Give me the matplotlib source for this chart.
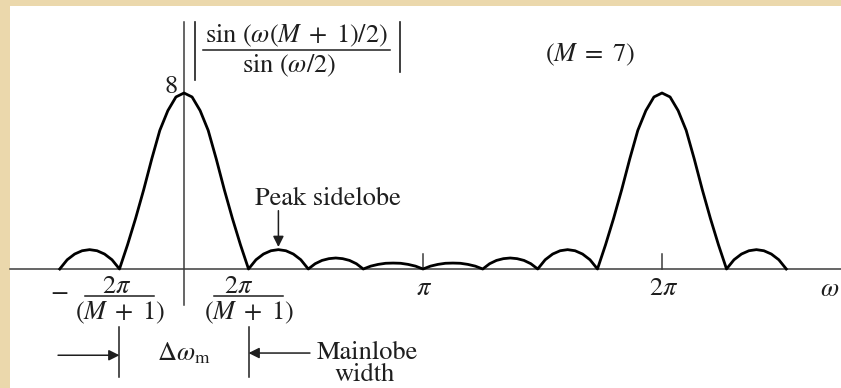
import numpy as np
import matplotlib.pyplot as plt
from matplotlib.patches import Rectangle

plt.rcParams['font.family'] = 'STIXGeneral'
plt.rcParams['mathtext.fontset'] = 'stix'

# zero crossings of |sin(w(M+1)/2) / sin(w/2)|, M = 7, in units of pi
zeros = [-0.52, -0.27, 0.27, 0.52, 0.75, 1.0, 1.25, 1.48, 1.73, 2.27, 2.52]

# magnitude across one lobe, evenly spaced between two zeros
main_lobe = [0, 1.1, 2.3, 3.6, 5.0, 6.3, 7.2, 7.82, 8.0,
             7.82, 7.2, 6.3, 5.0, 3.6, 2.3, 1.1, 0]
side_near = [0, 0.42, 0.68, 0.83, 0.88, 0.83, 0.68, 0.42, 0]
side_mid = [0, 0.24, 0.39, 0.47, 0.50, 0.47, 0.39, 0.24, 0]
side_far = [0, 0.13, 0.21, 0.26, 0.27, 0.26, 0.21, 0.13, 0]

lobes = [side_near, main_lobe, side_near, side_mid, side_far,
         side_far, side_mid, side_near, main_lobe, side_near]

tick_pos = [1, 2]
tick_labels = [r'$\pi$', r'$2\pi$']
peak_value = 8

ink = '#1e1e1e'
axis_col = '#3c3c3c'
fs = 19

# stitch the lobes into one curve
omega, magnitude = [], []
for i, vals in enumerate(lobes):
    w = np.linspace(zeros[i], zeros[i + 1], len(vals))
    start = 0 if i == 0 else 1
    omega.extend(w[start:])
    magnitude.extend(vals[start:])

fig = plt.figure(figsize=(8.41, 3.88), dpi=100, facecolor='#EBD8AC')
fig.add_artist(Rectangle((10 / 841, 0), 831 / 841, 382 / 388,
                         transform=fig.transFigure, facecolor='white',
                         edgecolor='none', zorder=0))

ax = fig.add_axes([0, 0, 1, 1])
ax.set_facecolor('none')
ax.set_xlim(-184 / 239, 657 / 239)
ax.set_ylim((269 - 388) / 22, 269 / 22)
ax.axis('off')

# axes
ax.plot([-0.728, 2.75], [0, 0], color=axis_col, lw=1.1)
ax.plot([0, 0], [-1.64, 11.23], color=axis_col, lw=1.1)
for t in tick_pos:
    ax.plot([t, t], [0, 0.68], color=axis_col, lw=1.1)

# magnitude curve
ax.plot(omega, magnitude, color='black', lw=2.0, solid_joinstyle='round')

# peak value label
ax.text(-0.055, peak_value + 0.27, str(peak_value), fontsize=fs, color=ink,
        ha='center', va='center')

# |sin(w(M+1)/2) / sin(w/2)|
ax.plot([0.046, 0.046], [8.59, 11.23], color=ink, lw=1.2)
ax.plot([0.904, 0.904], [8.95, 11.23], color=ink, lw=1.2)
ax.plot([0.08, 0.862], [9.95, 9.95], color=ink, lw=1.1)
ax.text(0.471, 10.58, r'$\mathrm{sin}\ (\omega(M\;+\;1)/2)$', fontsize=fs,
        color=ink, ha='center', va='center')
ax.text(0.44, 9.23, r'$\mathrm{sin}\ (\omega/2)$', fontsize=fs,
        color=ink, ha='center', va='center')
ax.text(1.699, 9.73, r'$(M\;=\;7)$', fontsize=fs, color=ink,
        ha='center', va='center')

# tick labels
for t, lab in zip(tick_pos, tick_labels):
    ax.text(t + 0.005, -0.9, lab, fontsize=fs, color=ink,
            ha='center', va='center')
ax.text(2.70, -0.95, r'$\omega$', fontsize=fs, color=ink,
        ha='center', va='center')

# +/- 2pi/(M+1) labels under the mainlobe zeros
ax.text(-0.523, -1.05, r'$-$', fontsize=fs, color=ink, ha='center', va='center')
for z, dx in [(zeros[1], -0.01), (zeros[2], -0.04)]:
    ax.plot([z - 0.143, z + 0.143], [-1.23, -1.23], color=ink, lw=1.1)
    ax.text(z + dx, -0.82, r'$2\pi$', fontsize=fs, color=ink,
            ha='center', va='center')
    ax.text(z, -2.0, r'$(M\;+\;1)$', fontsize=fs, color=ink,
            ha='center', va='center')

# mainlobe width marker
for z in zeros[1:3]:
    ax.plot([z, z], [-2.64, -4.91], color=ink, lw=1.1)
arrow = dict(arrowstyle='-|>', color=ink, lw=1.1, mutation_scale=16,
             shrinkA=0, shrinkB=0)
ax.annotate('', xy=(zeros[1], -3.92), xytext=(-0.527, -3.92), arrowprops=arrow)
ax.annotate('', xy=(zeros[2], -3.82), xytext=(0.527, -3.82), arrowprops=arrow)
ax.text(0.0, -3.85, r'$\Delta\omega_{\mathrm{m}}$', fontsize=fs, color=ink,
        ha='center', va='center')
ax.text(0.766, -4.1, 'Mainlobe', fontsize=fs, color=ink,
        ha='center', va='baseline')
ax.text(0.757, -5.1, 'width', fontsize=fs, color=ink,
        ha='center', va='baseline')

# peak sidelobe callout
peak_x = (zeros[2] + zeros[3]) / 2
ax.text(0.297, 2.9, 'Peak sidelobe', fontsize=fs, color=ink,
        ha='left', va='baseline')
ax.annotate('', xy=(peak_x, max(side_near) + 0.12), xytext=(peak_x, 2.65),
            arrowprops=arrow)

fig.savefig('out.png', dpi=100, facecolor=fig.get_facecolor())
